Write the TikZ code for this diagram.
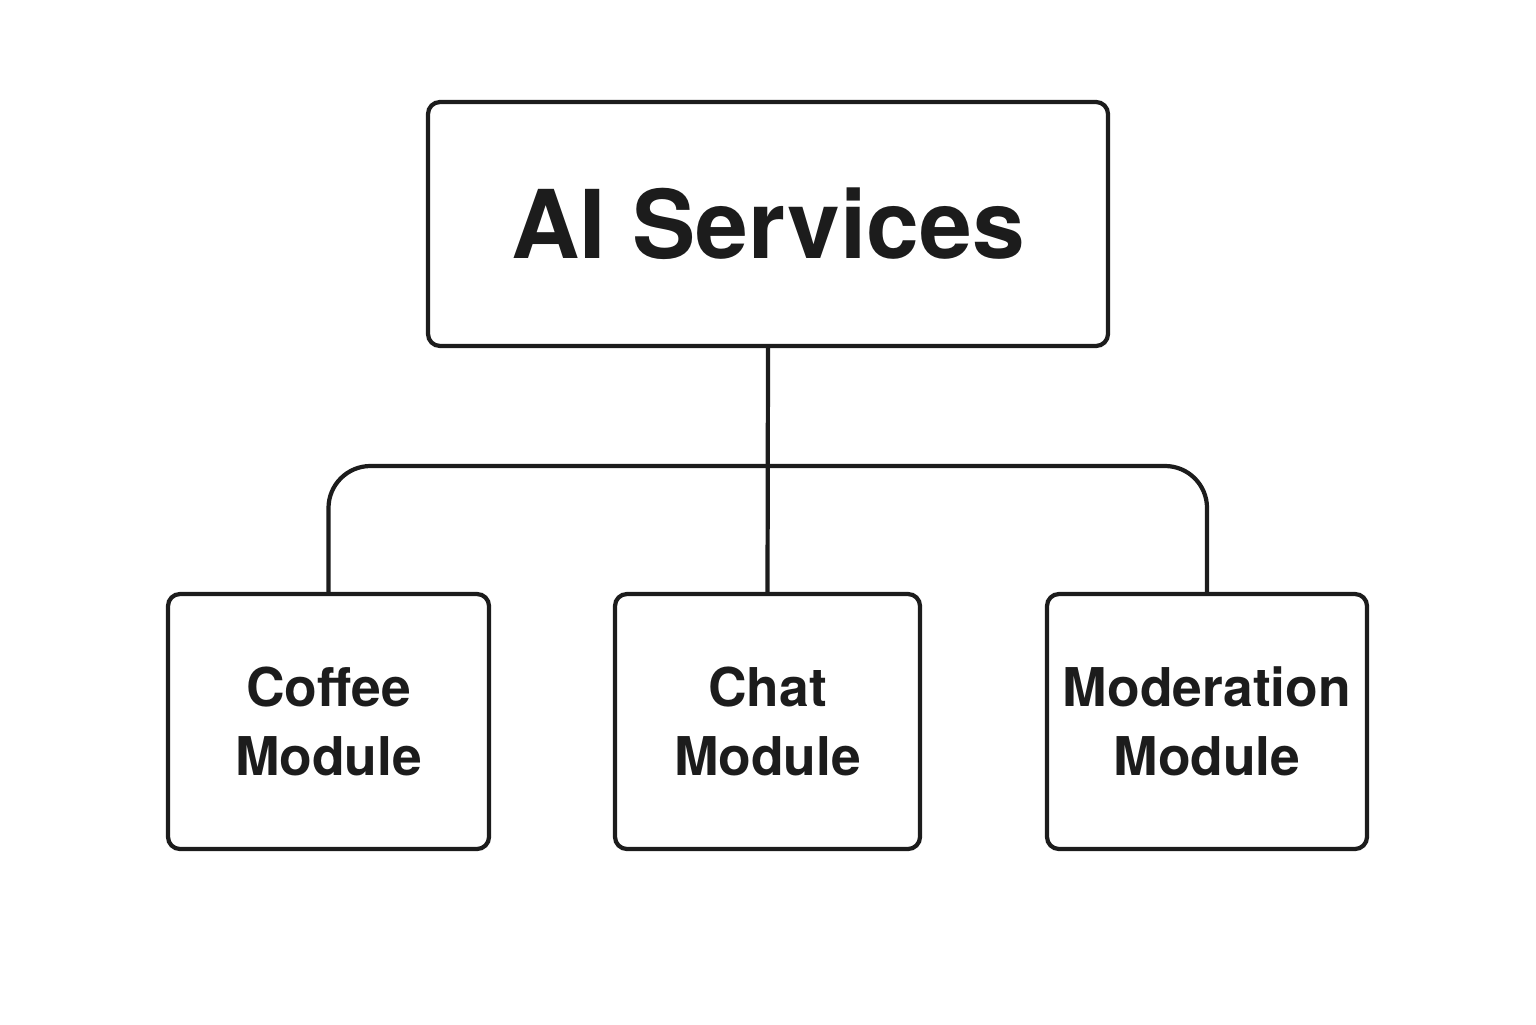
\documentclass[tikz,border=0pt]{standalone}
\usepackage{fontspec}
\setmainfont{TeX Gyre Heros}
\usepackage{tikz}
\usetikzlibrary{positioning}
\definecolor{ink}{HTML}{1C1C1C}

\begin{document}
\begin{tikzpicture}[
    box/.style={draw=ink, text=ink, line width=1.2pt, rounded corners=0.12cm, inner sep=0pt},
    module/.style={box, minimum height=2.55cm, align=center,
      font=\fontsize{15.2}{19.8}\selectfont\bfseries},
    link/.style={draw=ink, line width=1.2pt}
  ]
      \useasboundingbox (0, 0) rectangle (15.36, 10.24);

      % top box
      \node[box, minimum width=6.8cm, minimum height=2.44cm,
        font=\fontsize{27}{32}\selectfont\bfseries] (ai) at (7.68, 8.00) {AI Services};

      % modules
      \node[module, minimum width=3.21cm] (coffee) at (3.285, 3.025) {Coffee\\Module};
      \node[module, minimum width=3.05cm] (chat) at (7.675, 3.025) {Chat\\Module};
      \node[module, minimum width=3.2cm] (moder) at (12.07, 3.025) {Moderation\\Module};

      % connectors
      \coordinate (bar) at (7.68, 5.58);
      \draw[link] (ai.south) -- (chat.north);
      \draw[link, rounded corners=0.42cm] (bar) -| (coffee.north);
      \draw[link, rounded corners=0.42cm] (bar) -| (moder.north);

\end{tikzpicture}
\end{document}
